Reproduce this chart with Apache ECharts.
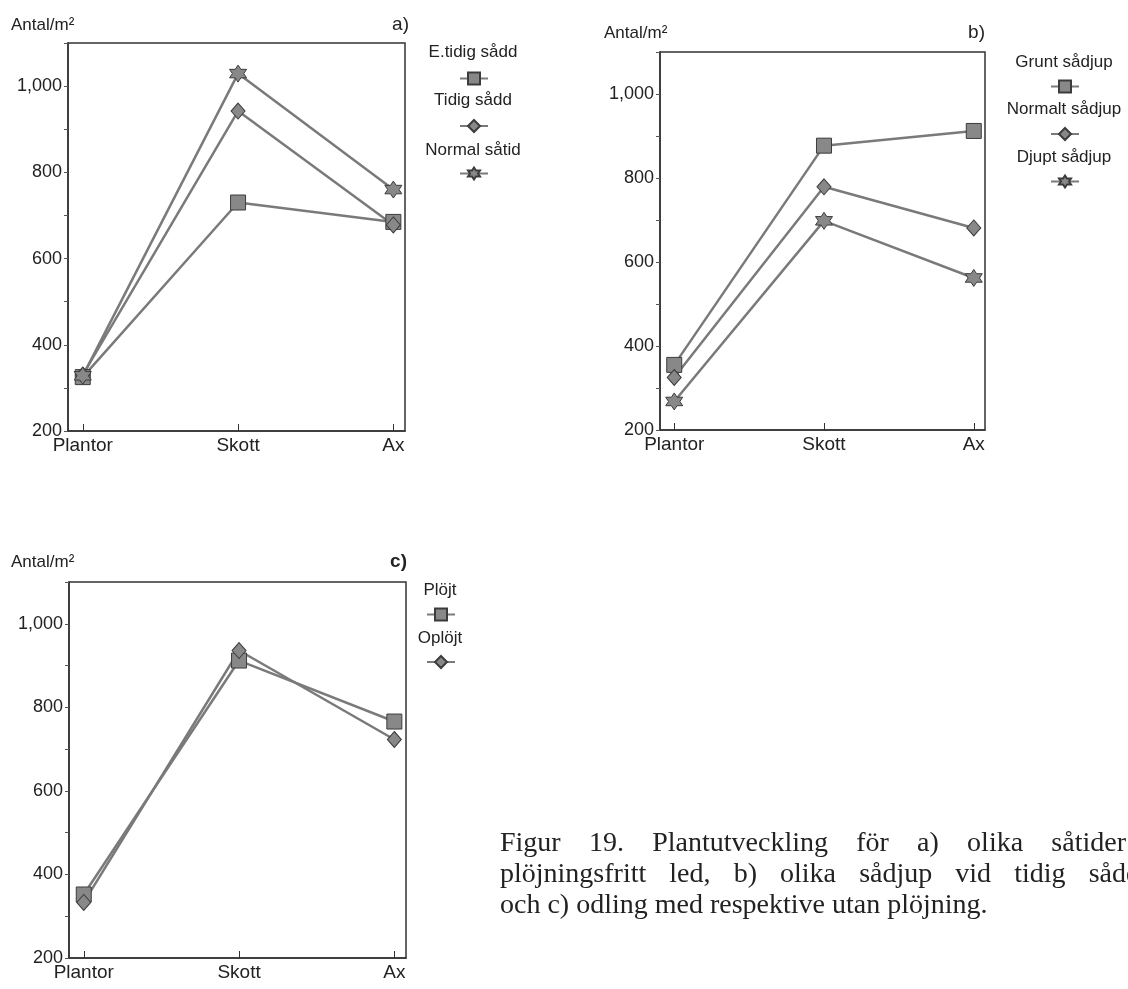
<!DOCTYPE html>
<html>
<head>
<meta charset="utf-8">
<script src="https://cdn.jsdelivr.net/npm/echarts@6/dist/echarts.min.js"></script>
<style>
  html, body { margin: 0; padding: 0; width: 1128px; height: 989px; overflow: hidden; background: #fff; }
  #chart { position: absolute; left: 0; top: 0; width: 1128px; height: 989px; }
  .cap { position: absolute; left: 500px; font-family: "Liberation Serif", "DejaVu Serif", serif; font-size: 28px; line-height: 31px; color: #222; white-space: nowrap; }
  .just { text-align: justify; text-align-last: justify; white-space: normal; }
</style>
</head>
<body>
<div id="chart"></div>
<div class="cap just" style="top:826px; width:626px;">Figur 19. Plantutveckling för a) olika såtider</div>
<div class="cap just" style="top:857px; width:640px;">plöjningsfritt led, b) olika sådjup vid tidig sådd</div>
<div class="cap" style="top:888px;">och c) odling med respektive utan plöjning.</div>
<script>
// ---- data ----
const categories = ['Plantor', 'Skott', 'Ax'];
const yLabelValues = [200, 400, 600, 800, 1000];
const yAxisTitle = 'Antal/m²';

const namesA = ['E.tidig sådd', 'Tidig sådd', 'Normal såtid'];
const aEtidig = [325, 730, 685];
const aTidig = [330, 942, 678];
const aNormal = [328, 1029, 760];

const namesB = ['Grunt sådjup', 'Normalt sådjup', 'Djupt sådjup'];
const bGrunt = [355, 877, 912];
const bNormalt = [325, 779, 681];
const bDjupt = [268, 698, 562];

const namesC = ['Plöjt', 'Oplöjt'];
const cPlojt = [352, 912, 766];
const cOplojt = [333, 936, 723];

const panelLabels = ['a)', 'b)', 'c)'];

// ---- styling ----
const SANS = '"Liberation Sans", Arial, sans-serif';
const STAR = 'path://M0,-10 L2.89,-5 L8.66,-5 L5.77,0 L8.66,5 L2.89,5 L0,10 L-2.89,5 L-8.66,5 L-5.77,0 L-8.66,-5 L-2.89,-5 Z';
const SYM = {
  square: { symbol: 'rect', size: 15 },
  diamond: { symbol: 'diamond', size: [14, 16] },
  star: { symbol: STAR, size: 17 }
};

const grids = [
  { left: 68, top: 43, width: 337, height: 388 },
  { left: 660, top: 52, width: 325, height: 378 },
  { left: 69, top: 582, width: 337, height: 376 }
];

function fmt(v) { return v >= 1000 ? Math.floor(v / 1000) + ',' + String(v % 1000).padStart(3, '0') : String(v); }

const xAxes = grids.map((g, i) => ({
  gridIndex: i, type: 'value', min: -0.095, max: 2.075,
  axisLine: { show: true, onZero: false, lineStyle: { color: '#333', width: 1.5 } },
  axisTick: { show: true, inside: true, length: 7, customValues: [0, 1, 2], lineStyle: { color: '#333' } },
  axisLabel: { customValues: [0, 1, 2], formatter: v => categories[Math.round(v)], fontSize: 19, color: '#222', fontFamily: SANS, margin: 5 },
  splitLine: { show: false }
}));

const yAxes = grids.map((g, i) => ({
  gridIndex: i, type: 'value', min: 200, max: 1100, interval: 100,
  axisLine: { show: true, onZero: false, lineStyle: { color: '#333', width: 1.5 } },
  axisTick: { show: true, inside: false, length: 4, lineStyle: { color: '#555' } },
  axisLabel: { formatter: v => yLabelValues.includes(v) ? fmt(v) : '', fontSize: 18, color: '#222', fontFamily: SANS, margin: 6 },
  splitLine: { show: false }
}));

function mk(name, vals, idx, sym) {
  return {
    name: name, type: 'line', xAxisIndex: idx, yAxisIndex: idx,
    data: vals.map((v, k) => [k, v]),
    symbol: SYM[sym].symbol, symbolSize: SYM[sym].size, showSymbol: true,
    itemStyle: { color: '#888', borderColor: '#3c3c3c', borderWidth: 1 },
    lineStyle: { color: '#7a7a7a', width: 2.5 },
    emphasis: { disabled: true },
    animation: false
  };
}

const series = [
  mk(namesA[0], aEtidig, 0, 'square'),
  mk(namesA[1], aTidig, 0, 'diamond'),
  mk(namesA[2], aNormal, 0, 'star'),
  mk(namesB[0], bGrunt, 1, 'square'),
  mk(namesB[1], bNormalt, 1, 'diamond'),
  mk(namesB[2], bDjupt, 1, 'star'),
  mk(namesC[0], cPlojt, 2, 'square'),
  mk(namesC[1], cOplojt, 2, 'diamond')
];

function legend(names, left, top) {
  return {
    data: names, orient: 'vertical', left: left, top: top,
    itemWidth: 28, itemHeight: 15, itemGap: 33, selectedMode: false,
    formatter: () => '', textStyle: { fontSize: 10 }, padding: 0
  };
}

function txt(text, x, y, align, size, weight) {
  return { type: 'text', x: x, y: y, style: { text: text, fill: '#222', fontSize: size, fontFamily: SANS, fontWeight: weight || 'normal', align: align, verticalAlign: 'middle' } };
}

const graphic = [
  txt(yAxisTitle, 11, 25, 'left', 17), txt(panelLabels[0], 409, 25, 'right', 19),
  txt(namesA[0], 473, 52, 'center', 17), txt(namesA[1], 473, 100, 'center', 17), txt(namesA[2], 473, 150, 'center', 17),
  txt(yAxisTitle, 604, 33, 'left', 17), txt(panelLabels[1], 985, 33, 'right', 19),
  txt(namesB[0], 1064, 62, 'center', 17), txt(namesB[1], 1064, 109, 'center', 17), txt(namesB[2], 1064, 157, 'center', 17),
  txt(yAxisTitle, 11, 562, 'left', 17), txt(panelLabels[2], 407, 562, 'right', 19, 'bold'),
  txt(namesC[0], 440, 590, 'center', 17), txt(namesC[1], 440, 638, 'center', 17)
];

const chart = echarts.init(document.getElementById('chart'), null, { renderer: 'canvas' });
chart.setOption({
  animation: false,
  backgroundColor: '#fff',
  grid: grids.map(g => Object.assign({ show: true, borderColor: '#333', borderWidth: 1.5, backgroundColor: 'transparent' }, g)),
  xAxis: xAxes,
  yAxis: yAxes,
  legend: [legend(namesA, 459, 71), legend(namesB, 1050, 79), legend(namesC, 426, 607)],
  graphic: graphic,
  series: series
});
</script>
</body>
</html>
